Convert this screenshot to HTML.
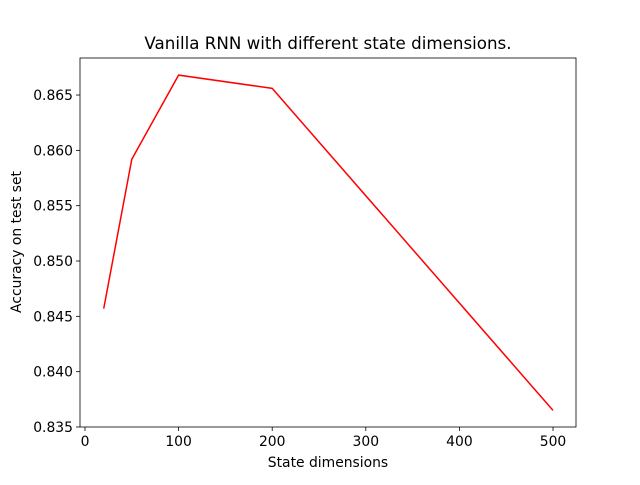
<!DOCTYPE html>
<html><head><meta charset="utf-8"><style>
body{margin:0;background:#fff;}
svg text{font-family:"DejaVu Sans","Liberation Sans",sans-serif;fill:#000;}
</style></head><body>
<svg id="chart" width="640" height="480" xmlns="http://www.w3.org/2000/svg">
<rect width="640" height="480" fill="#fff"/>
<text x="328" y="49" font-size="16.7" text-anchor="middle">Vanilla RNN with different state dimensions.</text>
<g id="axes"></g>
<text x="328" y="467" font-size="13.9" text-anchor="middle">State dimensions</text>
<text transform="translate(21,242) rotate(-90)" font-size="13.9" text-anchor="middle">Accuracy on test set</text>
</svg>
<script>
const xValues=[20,50,100,200,500];
const yValues=[0.8457,0.8592,0.8668,0.8656,0.8365];
const xTicks=[0,100,200,300,400,500];
const yTicks=[0.835,0.840,0.845,0.850,0.855,0.860,0.865];
const yTickLabels=["0.835","0.840","0.845","0.850","0.855","0.860","0.865"];
const L=80,R=576,T=58,B=427;
function sx(v){return 85+v*0.936;}
function sy(v){return 427-(v-0.835)/0.005*55.33;}
const ns="http://www.w3.org/2000/svg";
const g=document.getElementById('axes');
function mk(t,a){const e=document.createElementNS(ns,t);for(const k in a)e.setAttribute(k,a[k]);g.appendChild(e);return e;}
xTicks.forEach(t=>{
  const l=mk('line',{x1:sx(t),x2:sx(t),y1:B,y2:B+4,stroke:'#000','stroke-width':0.8});
  
  
  const tx=mk('text',{x:sx(t),y:B+19,'font-size':13.9,'text-anchor':'middle'});
  tx.textContent=t;
  
  
});
yTicks.forEach((t,i)=>{
  const l=mk('line',{x1:L-4,x2:L,y1:sy(t),y2:sy(t),stroke:'#000','stroke-width':0.8});
  
  
  const tx=mk('text',{x:L-7,y:sy(t)+5,'font-size':13.9,'text-anchor':'end'});
  tx.textContent=yTickLabels[i];
  
  
});
const pl=mk('polyline',{points:xValues.map((x,i)=>sx(x)+','+sy(yValues[i])).join(' '),fill:'none',stroke:'#ff0000','stroke-width':1.5});


const fr=mk('rect',{x:L,y:T,width:R-L,height:B-T,fill:'none',stroke:'#000','stroke-width':0.8});


</script>
</body></html>
